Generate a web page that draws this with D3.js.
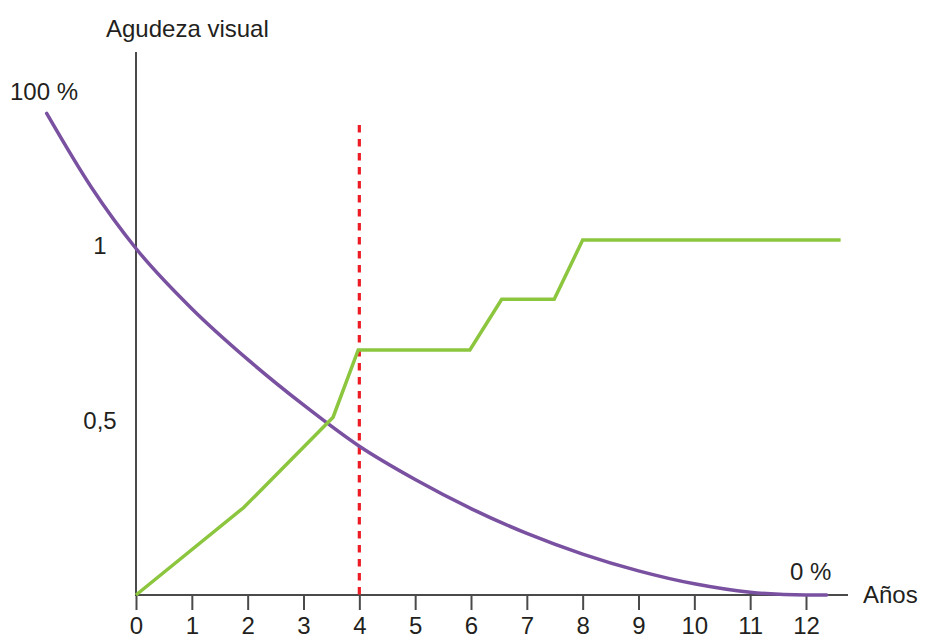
<!DOCTYPE html>
<html>
<head>
<meta charset="utf-8">
<script src="https://cdn.jsdelivr.net/npm/d3@7"></script>
<style>
  html, body { margin: 0; padding: 0; background: #fff; }
  svg text { font-family: "Liberation Sans", Arial, sans-serif; fill: #231f20; }
</style>
</head>
<body>
<svg id="chart" width="926" height="641"></svg>
<script>
// ---- data ----
const xTickValues = [0, 1, 2, 3, 4, 5, 6, 7, 8, 9, 10, 11, 12];
const xTickLabels = ["0", "1", "2", "3", "4", "5", "6", "7", "8", "9", "10", "11", "12"];
const yTickValues = [1, 0.5];
const yTickLabels = ["1", "0,5"];

// purple curve (year, value)
const purpleYears  = [-1.60, -0.80, 0, 1, 2, 3, 4, 5, 6, 7, 8, 9, 10, 11, 12, 12.37];
const purpleValues = [1.376, 1.165, 0.99, 0.818, 0.673, 0.543, 0.425, 0.330, 0.247, 0.176, 0.117, 0.069, 0.032, 0.008, 0.0, 0.0];

// green steps (year, value)
const greenYears  = [0, 1.93, 3.53, 3.98, 5.98, 6.55, 7.49, 8.0, 12.62];
const greenValues = [0, 0.25, 0.508, 0.70, 0.70, 0.845, 0.845, 1.014, 1.014];

// red marker
const markerYear = 4;
const markerTop = 1.343;

const labels = {
  yTitle: "Agudeza visual",
  xTitle: "Años",
  top: "100 %",
  bottom: "0 %"
};

// ---- drawing ----
const svg = d3.select("#chart");
const x = d3.scaleLinear().domain([0, 12]).range([136, 806]);
const y = d3.scaleLinear().domain([0, 1]).range([595, 245]);

const axisColor = "#4a4a4a";

// y axis line
svg.append("line")
  .attr("x1", x(0)).attr("x2", x(0))
  .attr("y1", 52).attr("y2", y(0))
  .attr("stroke", axisColor).attr("stroke-width", 2);

// x axis
const xAxis = d3.axisBottom(x)
  .tickValues(xTickValues)
  .tickFormat((d, i) => xTickLabels[i])
  .tickSize(15)
  .tickSizeOuter(0)
  .tickPadding(7);
const gx = svg.append("g").attr("transform", `translate(0,${y(0)})`).call(xAxis);
gx.select(".domain").remove();
gx.selectAll(".tick line").attr("stroke", axisColor).attr("stroke-width", 2);
gx.selectAll(".tick text")
  .attr("font-size", 24)
  .attr("fill", "#231f20")
  .style("font-family", "'Liberation Sans', Arial, sans-serif");
svg.append("line")
  .attr("x1", x(0) - 1).attr("x2", 848)
  .attr("y1", y(0)).attr("y2", y(0))
  .attr("stroke", axisColor).attr("stroke-width", 2);

// y tick labels
svg.selectAll("text.ylab")
  .data(yTickValues)
  .enter().append("text")
  .attr("class", "ylab")
  .attr("x", 100)
  .attr("y", d => y(d))
  .attr("dy", "0.36em")
  .attr("text-anchor", "middle")
  .attr("font-size", 24)
  .text((d, i) => yTickLabels[i]);

// red dashed marker
svg.append("line")
  .attr("x1", x(markerYear)).attr("x2", x(markerYear))
  .attr("y1", y(markerTop)).attr("y2", y(0))
  .attr("stroke", "#ed1c24")
  .attr("stroke-width", 3.2)
  .attr("stroke-dasharray", "7.5,6.5");

// purple curve
const purpleData = purpleYears.map((t, i) => [t, purpleValues[i]]);
svg.append("path")
  .datum(purpleData)
  .attr("fill", "none")
  .attr("stroke", "#7a51a1")
  .attr("stroke-width", 3.5)
  .attr("stroke-linecap", "round")
  .attr("d", d3.line().x(d => x(d[0])).y(d => y(d[1])).curve(d3.curveMonotoneX));

// green line
const greenData = greenYears.map((t, i) => [t, greenValues[i]]);
svg.append("path")
  .datum(greenData)
  .attr("fill", "none")
  .attr("stroke", "#8cc63f")
  .attr("stroke-width", 3.5)
  .attr("stroke-linejoin", "miter")
  .attr("d", d3.line().x(d => x(d[0])).y(d => y(d[1])));

// texts
svg.append("text").attr("x", 106).attr("y", 37).attr("font-size", 24).text(labels.yTitle);
svg.append("text").attr("x", 10).attr("y", 100).attr("font-size", 24).text(labels.top);
svg.append("text").attr("x", 790).attr("y", 580).attr("font-size", 24).text(labels.bottom);
svg.append("text").attr("x", 863).attr("y", 603).attr("font-size", 24).text(labels.xTitle);
</script>
</body>
</html>
